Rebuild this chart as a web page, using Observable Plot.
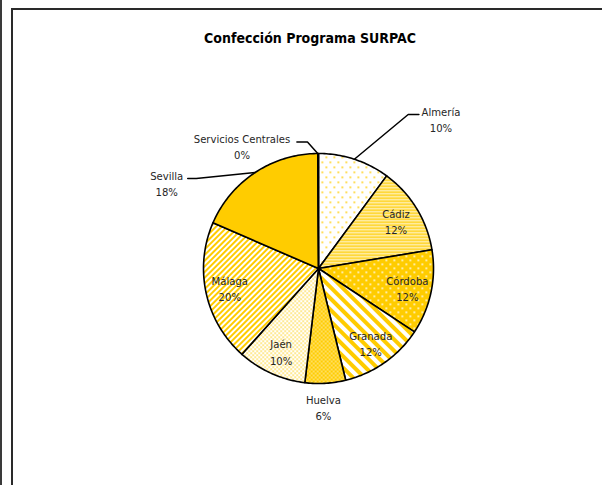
<!DOCTYPE html>
<html>
<head>
<meta charset="utf-8">
<script src="https://cdn.jsdelivr.net/npm/d3@7"></script>
<script src="https://cdn.jsdelivr.net/npm/@observablehq/plot@0.6"></script>
<style>
  html, body { margin: 0; padding: 0; background: #fff; }
  #wrap { position: relative; width: 602px; height: 485px; overflow: hidden; background: #fff; }
  #title { height: 50px; box-sizing: border-box; padding-top: 29px; padding-left: 11px; width: 609px;
           text-align: center; font-family: "DejaVu Sans Condensed", "DejaVu Sans", sans-serif; font-stretch: condensed;
           font-weight: bold; font-size: 14px; line-height: 18px; color: #000; }
  #chart svg { display: block; }
  .edge { position: absolute; pointer-events: none; }
</style>
</head>
<body>
<div id="wrap">
  <div id="title">Confección Programa SURPAC</div>
  <div id="chart"></div>
  <div class="edge" style="left:0;top:0;width:2px;height:485px;background:#3a3a3a;"></div>
  <div class="edge" style="left:11px;top:8px;width:600px;height:490px;border-top:2px solid #2a2a2a;border-left:2px solid #2a2a2a;"></div>
</div>
<script>
// ---- data ----
const categories = ["Almería", "Cádiz", "Córdoba", "Granada", "Huelva", "Jaén", "Málaga", "Sevilla", "Servicios Centrales"];
const values = [10.1, 12.3, 11.9, 11.9, 5.7, 9.7, 19.9, 18.4, 0.1];
const outsideLabels = ["Almería", "Huelva", "Sevilla", "Servicios Centrales"];

// ---- styles ----
const fills = {
  "Almería": "url(#pAlm)", "Cádiz": "url(#pCad)", "Córdoba": "url(#pCor)", "Granada": "url(#pGra)",
  "Huelva": "url(#pHue)", "Jaén": "url(#pJae)", "Málaga": "url(#pMal)", "Sevilla": "#FFCC00",
  "Servicios Centrales": "#FFCC00"
};
const FONT = '"Liberation Sans Narrow", "DejaVu Sans Condensed", sans-serif';

// ---- layout (pixels) ----
const W = 602, H = 435, CX = 318, CY = 218, RPX = 115;

const rows = categories.map((name, i) => ({name, value: values[i]}));
const total = d3.sum(values);
const arcs = d3.pie().sort(null).value(d => d.value)(rows);

// slice polygons in unit coordinates (y up)
const polys = [];
for (const a of arcs) {
  const n = Math.max(2, Math.ceil((a.endAngle - a.startAngle) / (Math.PI / 180)));
  polys.push({name: a.data.name, x: 0, y: 0});
  for (let k = 0; k <= n; k++) {
    const t = a.startAngle + (a.endAngle - a.startAngle) * k / n;
    polys.push({name: a.data.name, x: Math.sin(t), y: Math.cos(t)});
  }
  polys.push({name: a.data.name, x: 0, y: 0});
}

const pct = v => Math.round(v / total * 100) + "%";
const mid = a => (a.startAngle + a.endAngle) / 2;

// label placement
const outsideOffset = {   // label centre in unit coordinates
  "Almería": [1.065, 1.304],
  "Huelva": [0.043, -1.20],
  "Sevilla": [-1.32, 0.748],
  "Servicios Centrales": [-0.665, 1.065]
};
const labels = arcs.map(a => {
  const name = a.data.name;
  let x, y;
  if (outsideLabels.includes(name)) { [x, y] = outsideOffset[name]; }
  else { const m = mid(a), r = 0.79; x = r * Math.sin(m); y = r * Math.cos(m); }
  return {name, x, y, text: name + "\n" + pct(a.data.value)};
});

// leader lines: circle point -> elbow -> end
const leaderPath = {
  "Almería": [[0.78, 1.339], [0.873, 1.339]],
  "Sevilla": [[-1.063, 0.783], [-1.137, 0.783]],
  "Servicios Centrales": [[-0.096, 1.10], [-0.188, 1.10]]
};
const leaders = [];
for (const a of arcs) {
  const name = a.data.name;
  if (!leaderPath[name]) continue;
  const m = name === "Servicios Centrales" ? a.startAngle : mid(a);
  leaders.push({name, x: Math.sin(m), y: Math.cos(m)});
  for (const [x, y] of leaderPath[name]) leaders.push({name, x, y});
}

const chart = Plot.plot({
  width: W, height: H,
  margin: 0,
  x: {domain: [-CX / RPX, (W - CX) / RPX], axis: null},
  y: {domain: [-(H - CY) / RPX, CY / RPX], axis: null},
  color: {type: "ordinal", domain: categories, range: categories.map(c => fills[c])},
  style: {background: "#fff", overflow: "visible"},
  marks: [
    Plot.line(polys, {x: "x", y: "y", z: "name", fill: "name", stroke: "#000", strokeWidth: 1.6, strokeLinejoin: "round", curve: "linear"}),
    Plot.line(leaders, {x: "x", y: "y", z: "name", stroke: "#000", strokeWidth: 1.5, curve: "linear"}),
    Plot.text(labels, {x: "x", y: "y", text: "text", fontSize: 11.2, lineHeight: 1.45, fontFamily: FONT, fill: "#262626"})
  ]
});

const ns = "http://www.w3.org/2000/svg";
const defs = document.createElementNS(ns, "defs");
const Y = "#FFCC00";
defs.innerHTML = `
<pattern id="pAlm" patternUnits="userSpaceOnUse" width="8" height="10">
  <rect width="8" height="10" fill="#fff"/>
  <rect x="1" y="1" width="1.6" height="1.6" fill="${Y}"/>
  <rect x="5" y="6" width="1.6" height="1.6" fill="${Y}"/>
</pattern>
<pattern id="pCad" patternUnits="userSpaceOnUse" width="4" height="3">
  <rect width="4" height="3" fill="#FFF3C4"/>
  <rect y="0" width="4" height="1.4" fill="${Y}"/>
</pattern>
<pattern id="pCor" patternUnits="userSpaceOnUse" width="8" height="8">
  <rect width="8" height="8" fill="${Y}"/>
  <rect x="1" y="1" width="1.6" height="1.6" fill="#fff"/>
  <rect x="5" y="5" width="1.6" height="1.6" fill="#fff"/>
</pattern>
<pattern id="pGra" patternUnits="userSpaceOnUse" width="8" height="8" patternTransform="rotate(-45)">
  <rect width="8" height="8" fill="#fff"/>
  <rect width="4" height="8" fill="${Y}"/>
</pattern>
<pattern id="pHue" patternUnits="userSpaceOnUse" width="4" height="4">
  <rect width="4" height="4" fill="${Y}"/>
  <rect x="0.5" y="0.5" width="1.5" height="1" fill="#fff"/>
  <rect x="2.5" y="2.5" width="1.5" height="1" fill="#fff"/>
</pattern>
<pattern id="pJae" patternUnits="userSpaceOnUse" width="4" height="4">
  <rect width="4" height="4" fill="#fff"/>
  <rect x="0" y="0" width="1.3" height="1.3" fill="${Y}"/>
  <rect x="2" y="2" width="1.3" height="1.3" fill="${Y}"/>
</pattern>
<pattern id="pMal" patternUnits="userSpaceOnUse" width="4" height="4" patternTransform="rotate(45)">
  <rect width="4" height="4" fill="#fff"/>
  <rect width="2" height="4" fill="${Y}"/>
</pattern>`;
chart.insertBefore(defs, chart.firstChild);
document.getElementById("chart").appendChild(chart);
</script>
</body>
</html>
